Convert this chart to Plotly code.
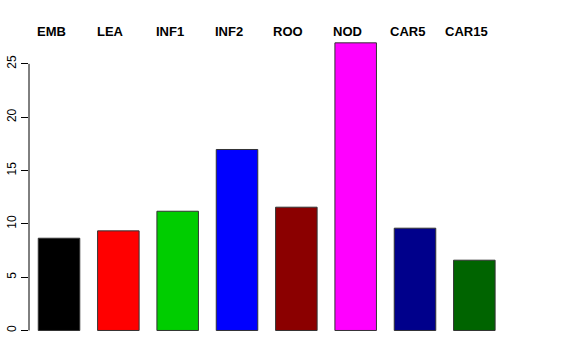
import plotly.graph_objects as go

categories = ["EMB", "LEA", "INF1", "INF2", "ROO", "NOD", "CAR5", "CAR15"]
values = [8.65, 9.34, 11.18, 16.97, 11.56, 26.97, 9.59, 6.59]
colors = ["#000000", "#FF0000", "#00CD00", "#0000FF", "#8B0000", "#FF00FF", "#00008B", "#006400"]
ytick_vals = [0, 5, 10, 15, 20, 25]

xpos = list(range(len(categories)))

fig = go.Figure()
fig.add_trace(go.Bar(
    x=xpos, y=values,
    marker=dict(color=colors, line=dict(color="#333333", width=1)),
    width=0.70,
    showlegend=False,
))

# R-style y axis line spanning only the tick range
fig.add_shape(type="line", xref="paper", x0=0, x1=0, yref="y",
              y0=ytick_vals[0], y1=ytick_vals[-1],
              line=dict(color="black", width=1))

for i, c in enumerate(categories):
    fig.add_annotation(x=i, y=1, xref="x", yref="paper", text="<b>%s</b>" % c,
                       showarrow=False, xshift=-8, yshift=0, yanchor="middle",
                       font=dict(family="Liberation Sans, Arial", size=13, color="black"))

fig.update_layout(
    width=576, height=360,
    margin=dict(l=29, r=72, t=31, b=18, autoexpand=False),
    paper_bgcolor="white", plot_bgcolor="white",
    font=dict(family="Liberation Sans, Arial", size=12, color="black"),
    xaxis=dict(range=[-0.506, 7.5], showgrid=False, zeroline=False,
               showticklabels=False, ticks="", showline=False, automargin=False),
    yaxis=dict(range=[-1.08, 28.08], showgrid=False, zeroline=False,
               tickvals=ytick_vals, ticks="outside", ticklen=7, tickcolor="black",
               tickangle=-90, showline=False, tickfont=dict(size=12), automargin=False),
)

fig.write_html("out.html", config={"displayModeBar": False},
               post_script="document.body.style.margin='0';document.body.style.overflow='hidden';")
